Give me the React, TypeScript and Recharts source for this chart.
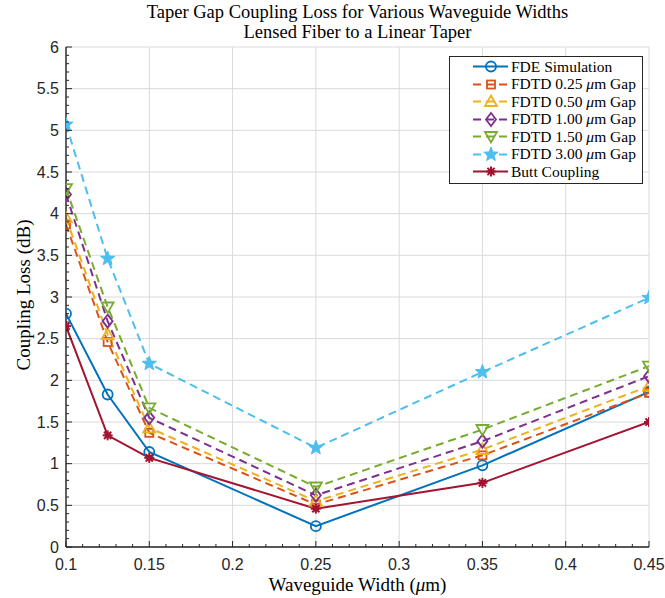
import React from 'react';
import { LineChart, Line, XAxis, YAxis, CartesianGrid, Legend } from 'recharts';

// waveguide widths (um) and coupling loss (dB) per method
const widths = [0.1, 0.125, 0.15, 0.25, 0.35, 0.45];
const fdeSim = [2.8, 1.83, 1.14, 0.25, 0.98, 1.86];
const fdtd025 = [3.87, 2.46, 1.37, 0.51, 1.1, 1.85];
const fdtd050 = [3.95, 2.55, 1.43, 0.55, 1.17, 1.93];
const fdtd100 = [4.23, 2.71, 1.55, 0.62, 1.27, 2.05];
const fdtd150 = [4.3, 2.88, 1.67, 0.72, 1.41, 2.17];
const fdtd300 = [5.07, 3.46, 2.2, 1.19, 2.1, 2.99];
const buttCoupling = [2.65, 1.34, 1.07, 0.46, 0.77, 1.5];

const xMajor = [0.1, 0.15, 0.2, 0.25, 0.3, 0.35, 0.4, 0.45];
const xTicks = [
  0.1, 0.11, 0.12, 0.13, 0.14, 0.15, 0.16, 0.17, 0.18, 0.19, 0.2, 0.21, 0.22, 0.23, 0.24, 0.25, 0.26, 0.27,
  0.28, 0.29, 0.3, 0.31, 0.32, 0.33, 0.34, 0.35, 0.36, 0.37, 0.38, 0.39, 0.4, 0.41, 0.42, 0.43, 0.44, 0.45,
];
const yMajor = [0, 0.5, 1, 1.5, 2, 2.5, 3, 3.5, 4, 4.5, 5, 5.5, 6];
const yTicks = [
  0, 0.1, 0.2, 0.3, 0.4, 0.5, 0.6, 0.7, 0.8, 0.9, 1, 1.1, 1.2, 1.3, 1.4, 1.5, 1.6, 1.7, 1.8, 1.9, 2, 2.1, 2.2,
  2.3, 2.4, 2.5, 2.6, 2.7, 2.8, 2.9, 3, 3.1, 3.2, 3.3, 3.4, 3.5, 3.6, 3.7, 3.8, 3.9, 4, 4.1, 4.2, 4.3, 4.4, 4.5,
  4.6, 4.7, 4.8, 4.9, 5, 5.1, 5.2, 5.3, 5.4, 5.5, 5.6, 5.7, 5.8, 5.9, 6,
];

const series = [
  { key: 'fde', name: 'FDE Simulation', color: '#0072BD', shape: 'circle', dashed: false, values: fdeSim },
  { key: 'g025', name: '0.25', color: '#D95319', shape: 'square', dashed: true, values: fdtd025 },
  { key: 'g050', name: '0.50', color: '#EDB120', shape: 'triUp', dashed: true, values: fdtd050 },
  { key: 'g100', name: '1.00', color: '#7E2F8E', shape: 'diamond', dashed: true, values: fdtd100 },
  { key: 'g150', name: '1.50', color: '#77AC30', shape: 'triDown', dashed: true, values: fdtd150 },
  { key: 'g300', name: '3.00', color: '#4DBEEE', shape: 'star', dashed: true, values: fdtd300 },
  { key: 'butt', name: 'Butt Coupling', color: '#A2142F', shape: 'asterisk', dashed: false, values: buttCoupling },
];

const data = widths.map((w, i) => {
  const row: Record<string, number> = { w };
  series.forEach((s) => (row[s.key] = s.values[i]));
  return row;
});

const AXIS = '#262626';
const SANS = 'Liberation Sans, Arial, sans-serif';
const SERIF = 'Liberation Serif, Times New Roman, serif';

function marker(shape: string, cx: number, cy: number, color: string) {
  const sw = 1.8;
  switch (shape) {
    case 'circle':
      return <circle cx={cx} cy={cy} r={5} fill="none" stroke={color} strokeWidth={sw} />;
    case 'square':
      return <rect x={cx - 4} y={cy - 4} width={8} height={8} fill="none" stroke={color} strokeWidth={sw} />;
    case 'triUp':
      return (
        <polygon
          points={`${cx},${cy - 6} ${cx + 6},${cy + 4.5} ${cx - 6},${cy + 4.5}`}
          fill="none"
          stroke={color}
          strokeWidth={sw}
        />
      );
    case 'diamond':
      return (
        <polygon
          points={`${cx},${cy - 6.5} ${cx + 5},${cy} ${cx},${cy + 6.5} ${cx - 5},${cy}`}
          fill="none"
          stroke={color}
          strokeWidth={sw}
        />
      );
    case 'triDown':
      return (
        <polygon
          points={`${cx - 6},${cy - 4.5} ${cx + 6},${cy - 4.5} ${cx},${cy + 6}`}
          fill="none"
          stroke={color}
          strokeWidth={sw}
        />
      );
    case 'star': {
      const pts: string[] = [];
      for (let k = 0; k < 10; k++) {
        const r = k % 2 === 0 ? 7.5 : 3.2;
        const a = -Math.PI / 2 + (k * Math.PI) / 5;
        pts.push(`${cx + r * Math.cos(a)},${cy + r * Math.sin(a)}`);
      }
      return <polygon points={pts.join(' ')} fill={color} stroke={color} strokeWidth={1} />;
    }
    default:
      return (
        <g stroke={color} strokeWidth={2}>
          <circle cx={cx} cy={cy} r={3} fill={color} stroke="none" />
          <line x1={cx - 5} y1={cy} x2={cx + 5} y2={cy} />
          <line x1={cx} y1={cy - 5} x2={cx} y2={cy + 5} />
          <line x1={cx - 3.6} y1={cy - 3.6} x2={cx + 3.6} y2={cy + 3.6} />
          <line x1={cx - 3.6} y1={cy + 3.6} x2={cx + 3.6} y2={cy - 3.6} />
        </g>
      );
  }
}

const makeDot = (shape: string, color: string) => (props: any) => {
  const { cx, cy, index } = props;
  if (cx == null || cy == null) return <g key={`e-${index}`} />;
  return <g key={`${shape}-${index}`}>{marker(shape, cx, cy, color)}</g>;
};

const isMajor = (list: number[], v: number) => list.some((m) => Math.abs(m - v) < 1e-9);

const BottomTick = (props: any) => {
  const { x, y, payload } = props;
  const major = isMajor(xMajor, payload.value);
  return (
    <g>
      <line x1={x} y1={y} x2={x} y2={y - (major ? 6 : 3)} stroke={AXIS} strokeWidth={1} />
      {major && (
        <text x={x} y={y + 23} textAnchor="middle" fontFamily={SANS} fontSize={16} fill={AXIS}>
          {String(payload.value)}
        </text>
      )}
    </g>
  );
};

const TopTick = (props: any) => {
  const { x, y, payload } = props;
  const major = isMajor(xMajor, payload.value);
  return <line x1={x} y1={y} x2={x} y2={y + (major ? 6 : 3)} stroke={AXIS} strokeWidth={1} />;
};

const LeftTick = (props: any) => {
  const { x, y, payload } = props;
  const major = isMajor(yMajor, payload.value);
  return (
    <g>
      <line x1={x} y1={y} x2={x + (major ? 6 : 3)} y2={y} stroke={AXIS} strokeWidth={1} />
      {major && (
        <text x={x - 7} y={y} dy="0.36em" textAnchor="end" fontFamily={SANS} fontSize={16} fill={AXIS}>
          {String(payload.value)}
        </text>
      )}
    </g>
  );
};

const RightTick = (props: any) => {
  const { x, y, payload } = props;
  const major = isMajor(yMajor, payload.value);
  return <line x1={x} y1={y} x2={x - (major ? 6 : 3)} y2={y} stroke={AXIS} strokeWidth={1} />;
};

const legendLabel = (s: (typeof series)[number]) =>
  s.key === 'fde' || s.key === 'butt' ? (
    s.name
  ) : (
    <>
      FDTD {s.name} <i>μ</i>m Gap
    </>
  );

const LegendBox = () => (
  <div
    style={{
      width: 194,
      height: 128,
      boxSizing: 'border-box',
      border: `1px solid ${AXIS}`,
      background: '#fff',
      padding: '1px 0',
      fontFamily: SERIF,
      fontSize: 15.5,
      color: '#000',
    }}
  >
    {series.map((s) => (
      <div key={s.key} style={{ height: 17.5, display: 'flex', alignItems: 'center', whiteSpace: 'nowrap' }}>
        <svg width={61} height={17} style={{ flex: 'none' }}>
          <line
            x1={23}
            y1={8.5}
            x2={58}
            y2={8.5}
            stroke={s.color}
            strokeWidth={2}
            strokeDasharray={s.dashed ? '8 5' : undefined}
          />
          {marker(s.shape, 41, 8.5, s.color)}
        </svg>
        <span>{legendLabel(s)}</span>
      </div>
    ))}
  </div>
);

export default function App() {
  return (
    <div style={{ position: 'absolute', left: 0, top: 0, width: 665, height: 598, background: '#fff' }}>
      <div
        style={{
          position: 'absolute',
          left: 66,
          width: 583,
          top: 2,
          textAlign: 'center',
          fontFamily: SERIF,
          fontSize: 18.5,
          lineHeight: '20px',
          color: '#000',
        }}
      >
        Taper Gap Coupling Loss for Various Waveguide Widths
        <br />
        Lensed Fiber to a Linear Taper
      </div>
      <LineChart width={665} height={598} data={data} margin={{ top: 47, right: 16, bottom: 0, left: 0 }}>
        <CartesianGrid
          stroke="#dadada"
          strokeWidth={1}
          verticalValues={xMajor}
          horizontalValues={yMajor}
        />
        <XAxis
          dataKey="w"
          type="number"
          domain={[0.1, 0.45]}
          ticks={xTicks}
          interval={0}
          height={51}
          tickSize={0}
          tickMargin={0}
          tickLine={false}
          axisLine={{ stroke: AXIS, strokeWidth: 1.4 }}
          tick={<BottomTick />}
          allowDataOverflow
        />
        <XAxis
          xAxisId="top"
          orientation="top"
          dataKey="w"
          type="number"
          domain={[0.1, 0.45]}
          ticks={xTicks}
          interval={0}
          height={0}
          tickSize={0}
          tickMargin={0}
          tickLine={false}
          axisLine={{ stroke: AXIS, strokeWidth: 1.4 }}
          tick={<TopTick />}
          allowDataOverflow
        />
        <YAxis
          type="number"
          domain={[0, 6]}
          ticks={yTicks}
          interval={0}
          width={66}
          tickSize={0}
          tickMargin={0}
          tickLine={false}
          axisLine={{ stroke: AXIS, strokeWidth: 1.4 }}
          tick={<LeftTick />}
          allowDataOverflow
        />
        <YAxis
          yAxisId="right"
          orientation="right"
          type="number"
          domain={[0, 6]}
          ticks={yTicks}
          interval={0}
          width={0}
          tickSize={0}
          tickMargin={0}
          tickLine={false}
          axisLine={{ stroke: AXIS, strokeWidth: 1.4 }}
          tick={<RightTick />}
          allowDataOverflow
        />
        <Legend
          layout="vertical"
          align="center"
          verticalAlign="middle"
          wrapperStyle={{ left: 449, top: 56, width: 194, height: 128 }}
          content={() => <LegendBox />}
        />
        {series.map((s) => (
          <Line
            key={s.key}
            dataKey={s.key}
            name={s.name}
            type="linear"
            stroke={s.color}
            strokeWidth={2}
            strokeDasharray={s.dashed ? '8 5' : undefined}
            dot={makeDot(s.shape, s.color)}
            activeDot={false}
            isAnimationActive={false}
          />
        ))}
      </LineChart>
      <div
        style={{
          position: 'absolute',
          left: 66,
          width: 583,
          top: 576,
          textAlign: 'center',
          fontFamily: SERIF,
          fontSize: 19,
          lineHeight: '18px',
          color: '#000',
        }}
      >
        Waveguide Width (<i>μ</i>m)
      </div>
      <div
        style={{
          position: 'absolute',
          left: 24,
          top: 295,
          transform: 'translate(-50%, -50%) rotate(-90deg)',
          fontFamily: SERIF,
          fontSize: 19,
          lineHeight: '20px',
          whiteSpace: 'nowrap',
          color: '#000',
        }}
      >
        Coupling Loss (dB)
      </div>
    </div>
  );
}
